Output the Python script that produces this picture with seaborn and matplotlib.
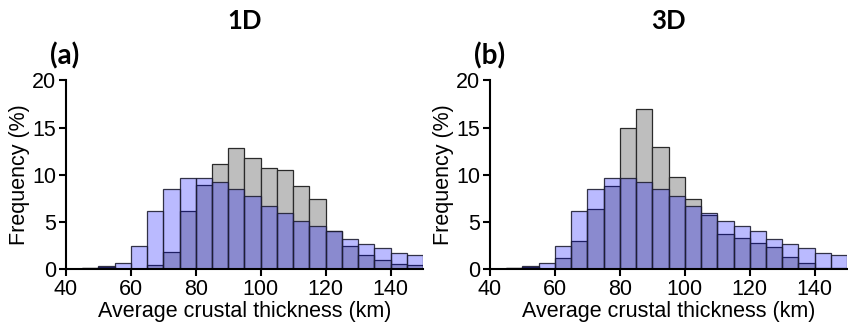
import numpy as np
import pandas as pd
import matplotlib
matplotlib.use("Agg")
import matplotlib.pyplot as plt
import seaborn as sns

# bin edges (km) and frequencies (%)
bin_edges = [40, 45, 50, 55, 60, 65, 70, 75, 80, 85, 90, 95, 100, 105, 110,
             115, 120, 125, 130, 135, 140, 145, 150]
prior = [0.05, 0.1, 0.3, 0.67, 2.47, 6.1, 8.5, 9.6, 9.7, 9.2, 8.45, 7.7, 6.7,
         5.9, 5.1, 4.56, 4.0, 3.18, 2.6, 2.2, 1.73, 1.45]
post_1d = [0.0, 0.1, 0.2, 0.05, 0.0, 0.42, 1.84, 6.15, 8.9, 11.1, 12.8, 11.8,
           10.7, 10.5, 8.8, 7.4, 4.0, 2.44, 1.48, 0.95, 0.53, 0.46]
post_3d = [0.0, 0.07, 0.25, 0.05, 1.17, 2.97, 6.36, 8.76, 14.9, 16.96, 12.9,
           9.75, 7.4, 5.72, 3.7, 3.3, 2.76, 2.33, 1.27, 0.64, 0.14, 0.1]
titles = ["1D", "3D"]
panel_labels = ["(a)", "(b)"]
x_ticks = [40, 60, 80, 100, 120, 140]
y_ticks = [0, 5, 10, 15, 20]

sns.set_theme(style="ticks")
plt.rcParams["font.family"] = ["Liberation Sans", "DejaVu Sans"]
plt.rcParams["text.color"] = "black"
plt.rcParams["axes.labelcolor"] = "black"
plt.rcParams["xtick.color"] = "black"
plt.rcParams["ytick.color"] = "black"

fig = plt.figure(figsize=(8.48, 3.29), dpi=100)
axes = [fig.add_axes([0.0778, 0.1824, 0.4210, 0.5732]),
        fig.add_axes([0.5778, 0.1824, 0.4212, 0.5732])]

edges = np.array(bin_edges, dtype=float)
centers = (edges[:-1] + edges[1:]) / 2

for ax, post, title, lab in zip(axes, [post_1d, post_3d], titles, panel_labels):
    df = pd.DataFrame({"x": centers, "post": post, "prior": prior})
    sns.histplot(data=df, x="x", weights="post", bins=list(edges), ax=ax,
                 stat="count", color="#bebebe", alpha=1.0,
                 edgecolor="#2a2a2a", linewidth=0.9)
    n_post = len(ax.patches)
    sns.histplot(data=df, x="x", weights="prior", bins=list(edges), ax=ax,
                 stat="count", color=(0.0, 0.0, 1.0), alpha=0.27,
                 edgecolor="#2a2a2a", linewidth=0.9)
    for p in ax.patches[n_post:]:
        p.set_alpha(None)
        p.set_facecolor((0.0, 0.0, 1.0, 0.27))
        p.set_edgecolor((0.12, 0.12, 0.2, 0.9))
    ax.set_xlim(40, 150)
    ax.set_ylim(0, 20)
    ax.set_xticks(x_ticks)
    ax.set_yticks(y_ticks)
    ax.set_xlabel("Average crustal thickness (km)", fontsize=15.5, labelpad=1)
    ax.set_ylabel("Frequency (%)", fontsize=15.5, labelpad=1.5)
    ax.tick_params(axis="both", labelsize=15.5, length=5, width=1.5,
                   color="black", labelcolor="black", pad=2)
    for s in ["left", "bottom"]:
        ax.spines[s].set_linewidth(1.5)
        ax.spines[s].set_color("black")
    sns.despine(ax=ax)
    ax.set_title(title, fontsize=18.5, fontweight="bold", color="black",
                 family=["Lato", "DejaVu Sans"], pad=37)
    ax.text(-0.045, 1.06, lab, transform=ax.transAxes, fontsize=20,
            fontweight="bold", family=["Lato", "DejaVu Sans"], color="black",
            ha="left", va="bottom")

fig.savefig("out.png", dpi=100)
